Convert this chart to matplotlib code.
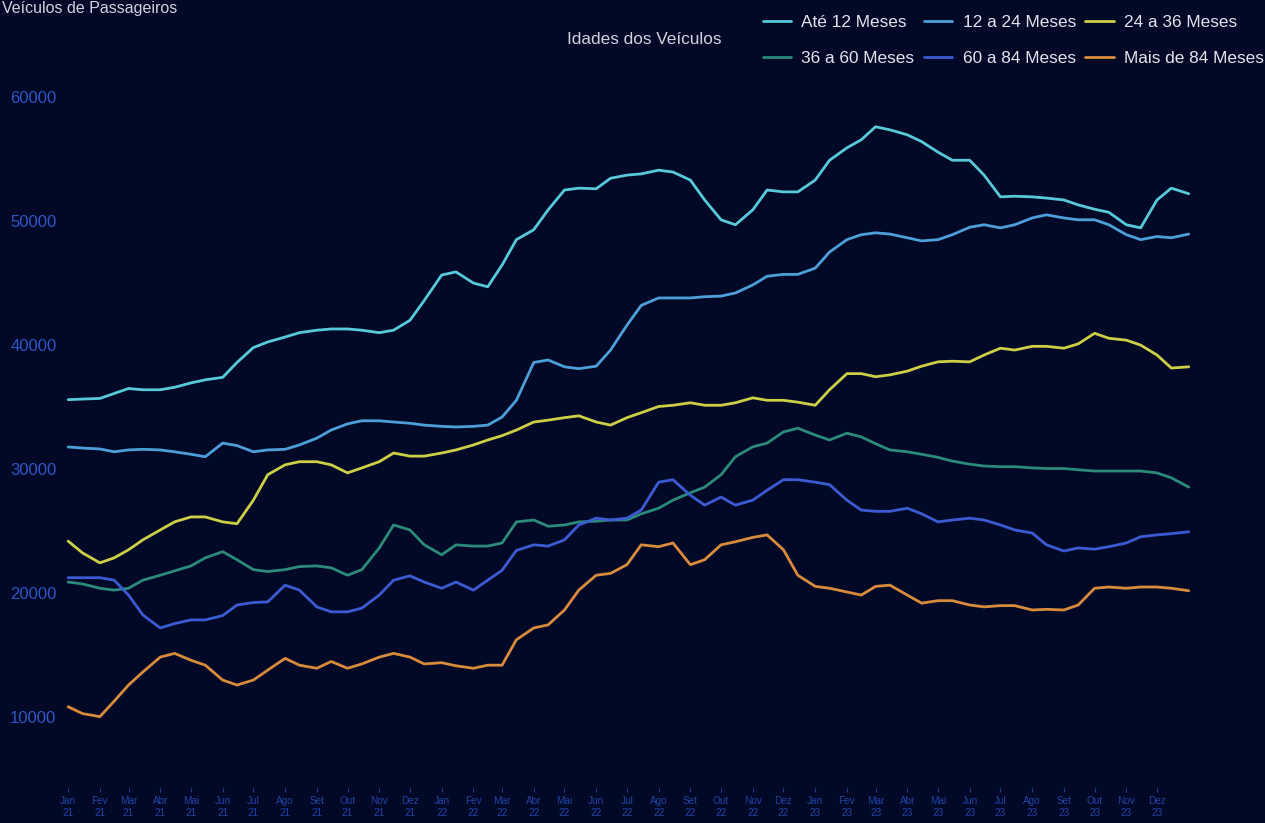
import matplotlib
matplotlib.use("Agg")
import matplotlib.pyplot as plt
import pandas as pd

# semi-monthly points, Jan 2021 -> Jan 2024
datas = pd.date_range("2021-01-01", periods=73, freq="SMS")

ate_12 = [35600, 35650, 35700, 36100, 36500, 36400, 36400, 36600, 36950, 37200,
          37400, 38600, 39800, 40250, 40650, 41000, 41200, 41300, 41300, 41200,
          41000, 41200, 42000, 43600, 45650, 45900, 45000, 44700, 46450, 48500,
          49300, 50900, 52500, 52650, 52600, 53450, 53700, 53800, 54100, 53950,
          53300, 51700, 50100, 49700, 50900, 52500, 52350, 52350, 53300, 54900,
          55900, 56550, 57600, 57350, 56950, 56400, 55550, 54900, 54900, 53700,
          51950, 52000, 51950, 51850, 51700, 51300, 50950, 50700, 49700, 49450,
          51700, 52650, 52200]
de_12_24 = [31790, 31700, 31630, 31400, 31550, 31600, 31550, 31400, 31200, 31000,
            32100, 31900, 31400, 31550, 31600, 31950, 32500, 33150, 33650, 33900,
            33900, 33800, 33700, 33550, 33450, 33400, 33450, 33550, 34200, 35550,
            38600, 38800, 38250, 38100, 38300, 39600, 41600, 43200, 43800, 43800,
            43800, 43900, 43950, 44200, 44850, 45550, 45700, 45700, 46200, 47500,
            48500, 48900, 49050, 48950, 48650, 48400, 48500, 48900, 49500, 49700,
            49450, 49700, 50250, 50500, 50250, 50100, 50100, 49700, 48900, 48500,
            48750, 48650, 48950]
de_24_36 = [24200, 23250, 22450, 22850, 23500, 24300, 25100, 25750, 26150, 26150,
            25750, 25600, 27500, 29550, 30350, 30600, 30600, 30350, 29700, 30100,
            30600, 31300, 31050, 31050, 31300, 31550, 31950, 32350, 32700, 33150,
            33800, 33950, 34150, 34300, 33800, 33550, 34150, 34550, 35050, 35150,
            35350, 35150, 35150, 35350, 35750, 35550, 35550, 35400, 35150, 36400,
            37700, 37700, 37450, 37600, 37900, 38300, 38650, 38700, 38650, 39200,
            39750, 39600, 39900, 39900, 39750, 40100, 40950, 40550, 40400, 40000,
            39200, 38150, 38250]
de_36_60 = [20900, 20750, 20400, 20250, 20400, 21050, 21450, 21800, 22200, 22850,
            23350, 22700, 21900, 21750, 21900, 22150, 22200, 22050, 21450, 21900,
            23650, 25500, 25100, 23900, 23100, 23900, 23800, 23800, 24050, 25750,
            25900, 25400, 25500, 25750, 25800, 25900, 25900, 26400, 26850, 27500,
            28100, 28550, 29550, 31000, 31800, 32100, 33000, 33300, 32750, 32350,
            32900, 32600, 32050, 31550, 31400, 31200, 30950, 30650, 30400, 30250,
            30200, 30200, 30100, 30050, 30050, 29950, 29850, 29850, 29850, 29850,
            29700, 29300, 28550]
de_60_84 = [21250, 21250, 21250, 21050, 19850, 18250, 17200, 17550, 17850, 17850,
            18200, 19050, 19250, 19300, 20650, 20250, 18900, 18500, 18500, 18800,
            19850, 21050, 21400, 20900, 20400, 20900, 20250, 21050, 21850, 23450,
            23900, 23800, 24300, 25500, 26050, 25900, 26050, 26700, 28950, 29150,
            27900, 27100, 27750, 27100, 27500, 28300, 29150, 29150, 28950, 28750,
            27500, 26700, 26600, 26600, 26850, 26400, 25750, 25900, 26050, 25900,
            25500, 25100, 24850, 23900, 23400, 23650, 23550, 23750, 24050, 24550,
            24700, 24800, 24950]
mais_84 = [10850, 10300, 10050, 11300, 12600, 13650, 14850, 15150, 14600, 14200,
           13000, 12600, 13000, 13800, 14750, 14200, 13950, 14500, 13950, 14300,
           14850, 15150, 14850, 14300, 14400, 14150, 13950, 14200, 14200, 16250,
           17200, 17450, 18650, 20250, 21450, 21600, 22300, 23900, 23750, 24050,
           22300, 22700, 23900, 24150, 24500, 24700, 23500, 21450, 20550, 20400,
           20100, 19850, 20550, 20650, 19850, 19200, 19400, 19400, 19050, 18900,
           19000, 19000, 18650, 18700, 18650, 19050, 20400, 20500, 20400, 20500,
           20500, 20400, 20200]

series = [
    ("Até 12 Meses", ate_12, "#58c9d9"),
    ("12 a 24 Meses", de_12_24, "#4d9fd9"),
    ("24 a 36 Meses", de_24_36, "#cdcf45"),
    ("36 a 60 Meses", de_36_60, "#2b8a78"),
    ("60 a 84 Meses", de_60_84, "#3a5bd2"),
    ("Mais de 84 Meses", mais_84, "#d98b3c"),
]
meses = ["Jan", "Fev", "Mar", "Abr", "Mai", "Jun",
         "Jul", "Ago", "Set", "Out", "Nov", "Dez"]
yticks = [10000, 20000, 30000, 40000, 50000, 60000]

BG = "#020927"
plt.rcParams["font.family"] = ["Liberation Sans", "DejaVu Sans"]

fig = plt.figure(figsize=(12.65, 8.23), dpi=100, facecolor=BG)
ax = fig.add_axes([62 / 1265, 1 - 788 / 823, (1200 - 62) / 1265, (788 - 60) / 823])
ax.set_facecolor(BG)

linhas = {}
for nome, vals, cor in series:
    linhas[nome], = ax.plot(datas, vals, color=cor, lw=2.0, label=nome,
                            solid_capstyle="round", solid_joinstyle="round")

ax.set_ylim(4300, 62980)
ax.set_xlim(pd.Timestamp("2020-12-26"), pd.Timestamp("2024-01-12"))

ax.set_yticks(yticks)
ax.set_yticklabels([str(v) for v in yticks])
ax.tick_params(axis="y", length=0, pad=4, labelsize=12, labelcolor="#2f56c8")

ticks = pd.date_range("2021-01-01", "2023-12-01", freq="MS")
ax.set_xticks(ticks)
ax.set_xticklabels([f"{meses[d.month - 1]}\n{d.year % 100}" for d in ticks],
                   linespacing=1.25)
ax.tick_params(axis="x", length=3, width=0.8, color="#1f3c9c", pad=3,
               labelsize=7.2, labelcolor="#2343a8")

for s in ax.spines.values():
    s.set_visible(False)

fig.text(2 / 1265, 1 - 9 / 823, "Veículos de Passageiros", ha="left",
         va="center", color="#d0d2dc", fontsize=11.5)
fig.text(567 / 1265, 1 - 39 / 823, "Idades dos Veículos", ha="left",
         va="center", color="#d0d2dc", fontsize=12.4)

ordem = ["Até 12 Meses", "36 a 60 Meses", "12 a 24 Meses",
         "60 a 84 Meses", "24 a 36 Meses", "Mais de 84 Meses"]
leg = fig.legend([linhas[n] for n in ordem], ordem, ncol=3,
                 loc="upper right", bbox_to_anchor=(1264 / 1265, 1 - 15 / 823),
                 frameon=False, fontsize=12.4, labelcolor="#e2e4ec",
                 handlelength=1.65, handletextpad=0.6, columnspacing=0.55,
                 labelspacing=1.2, borderaxespad=0.0, borderpad=0.0)

fig.savefig("out.png", dpi=100, facecolor=BG)
